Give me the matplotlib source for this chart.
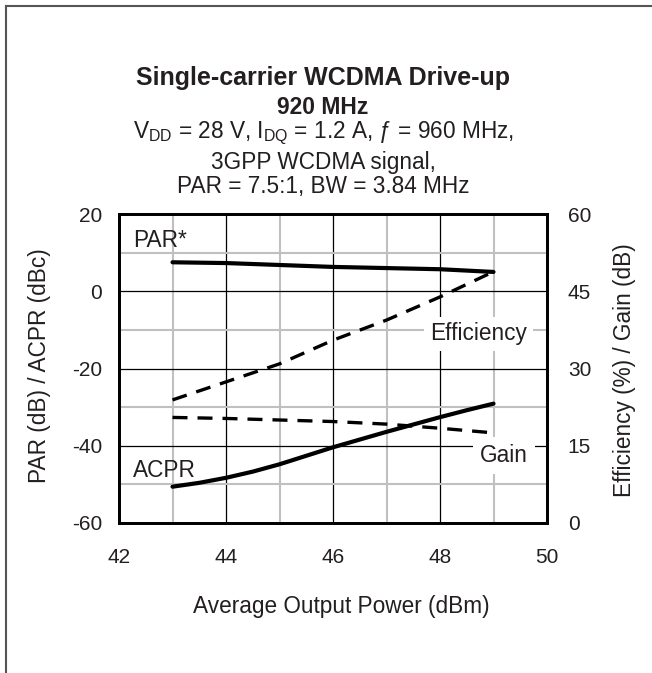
import matplotlib
matplotlib.use("Agg")
import matplotlib.pyplot as plt
from matplotlib.ticker import MultipleLocator

plt.rcParams['font.family'] = ['Liberation Sans', 'DejaVu Sans']
plt.rcParams['mathtext.fontset'] = 'custom'
plt.rcParams['mathtext.rm'] = 'Liberation Sans'
plt.rcParams['mathtext.it'] = 'Liberation Sans:italic'
plt.rcParams['axes.unicode_minus'] = False

# Data
pout = [43, 44, 45, 46, 47, 48, 49]
par = [7.5, 7.3, 6.8, 6.3, 6.0, 5.7, 5.0]
efficiency = [23.9, 27.4, 30.9, 35.5, 39.4, 43.9, 48.8]
gain = [20.5, 20.3, 20.0, 19.7, 19.2, 18.4, 17.5]
pout_acpr = [43, 43.5, 44, 44.5, 45, 45.5, 46, 46.5, 47, 47.5, 48, 48.5, 49]
acpr = [-50.6, -49.6, -48.3, -46.7, -44.8, -42.6, -40.4, -38.4, -36.4, -34.5, -32.6, -30.8, -29.1]

left_ticks = [20, 0, -20, -40, -60]
right_ticks = [60, 45, 30, 15, 0]
x_ticks = [42, 44, 46, 48, 50]

TXT = '#231f20'
FS = 16.3
TFS = 15

fig = plt.figure(figsize=(6.52, 6.73), dpi=100)
W, H = 652, 673
ax = fig.add_axes([119 / W, 1 - 523 / H, (547 - 119) / W, (523 - 214) / H])

# frame lines (left and top)
fig.add_artist(plt.Line2D([6 / W, 6 / W], [0, 1 - 6 / H], color='#555555', lw=1.5, transform=fig.transFigure))
fig.add_artist(plt.Line2D([6 / W, 1], [1 - 6 / H, 1 - 6 / H], color='#555555', lw=1.5, transform=fig.transFigure))

ax.set_xlim(42, 50)
ax.set_ylim(-60, 20)
ax.set_xticks(x_ticks)
ax.set_yticks(left_ticks)
ax.xaxis.set_minor_locator(MultipleLocator(1))
ax.yaxis.set_minor_locator(MultipleLocator(10))
ax.grid(which='minor', color='#c0c0c0', lw=1.5, zorder=0)
ax.grid(which='major', color='black', lw=0.9, zorder=0)
ax.set_axisbelow(True)
ax.tick_params(which='both', length=0, labelcolor=TXT)
ax.tick_params(axis='y', pad=12, labelsize=TFS)
ax.tick_params(axis='x', pad=18, labelsize=TFS)
for s in ax.spines.values():
    s.set_linewidth(2)
    s.set_color('black')

ax.plot(pout, par, color='black', lw=3.0, solid_capstyle='round', solid_joinstyle='round', zorder=3)
ax.plot(pout_acpr, acpr, color='black', lw=3.0, solid_capstyle='round', solid_joinstyle='round', zorder=3)

ax2 = ax.twinx()
ax2.set_ylim(0, 60)
ax2.set_yticks(right_ticks)
ax2.tick_params(length=0, pad=15, labelsize=TFS, labelcolor=TXT)
for s in ax2.spines.values():
    s.set_linewidth(2)
ax2.plot(pout, efficiency, color='black', lw=2.4, dashes=(4.5, 3), zorder=3)
ax2.plot(pout, gain, color='black', lw=2.4, dashes=(4.5, 3), zorder=3)

# axis titles
fig.text(341 / W, 1 - 606 / H, 'Average Output Power (dBm)', fontsize=FS, ha='center', va='center', color=TXT)
fig.text(40 / W, 1 - 366 / H, 'PAR (dB) / ACPR (dBc)', fontsize=FS, rotation=90, ha='center', va='center', color=TXT)
fig.text(625 / W, 1 - 370 / H, 'Efficiency (%) / Gain (dB)', fontsize=FS, rotation=90, ha='center', va='center', color=TXT)

# series labels
ax.text(42.26, 11.4, 'PAR*', fontsize=FS, ha='left', va='baseline', color=TXT)
ax.text(42.26, -48.1, 'ACPR', fontsize=FS, ha='left', va='baseline', color=TXT)
ax.text(48.72, -12.7, 'Efficiency', fontsize=FS, ha='center', va='baseline', color=TXT,
        bbox=dict(facecolor='white', edgecolor='none', pad=4), zorder=5)
ax.text(49.19, -44.2, 'Gain', fontsize=FS, ha='center', va='baseline', color=TXT,
        bbox=dict(facecolor='white', edgecolor='none', pad=5), zorder=5)

# title block
cx = 323 / W
fig.text(cx, 1 - 78 / H, 'Single-carrier WCDMA Drive-up', fontsize=18, fontweight='bold', ha='center', va='center', color=TXT)
fig.text(cx, 1 - 107 / H, '920 MHz', fontsize=16.5, fontweight='bold', ha='center', va='center', color=TXT)
fig.text(cx, 1 - 133 / H, r'V$_{\mathrm{DD}}$ = 28 V, I$_{\mathrm{DQ}}$ = 1.2 A, ƒ = 960 MHz,', fontsize=FS, ha='center', va='center', color=TXT)
fig.text(cx, 1 - 162 / H, '3GPP WCDMA signal,', fontsize=FS, ha='center', va='center', color=TXT)
fig.text(cx, 1 - 186 / H, 'PAR = 7.5:1, BW = 3.84 MHz', fontsize=FS, ha='center', va='center', color=TXT)

fig.savefig('out.png', dpi=100)
